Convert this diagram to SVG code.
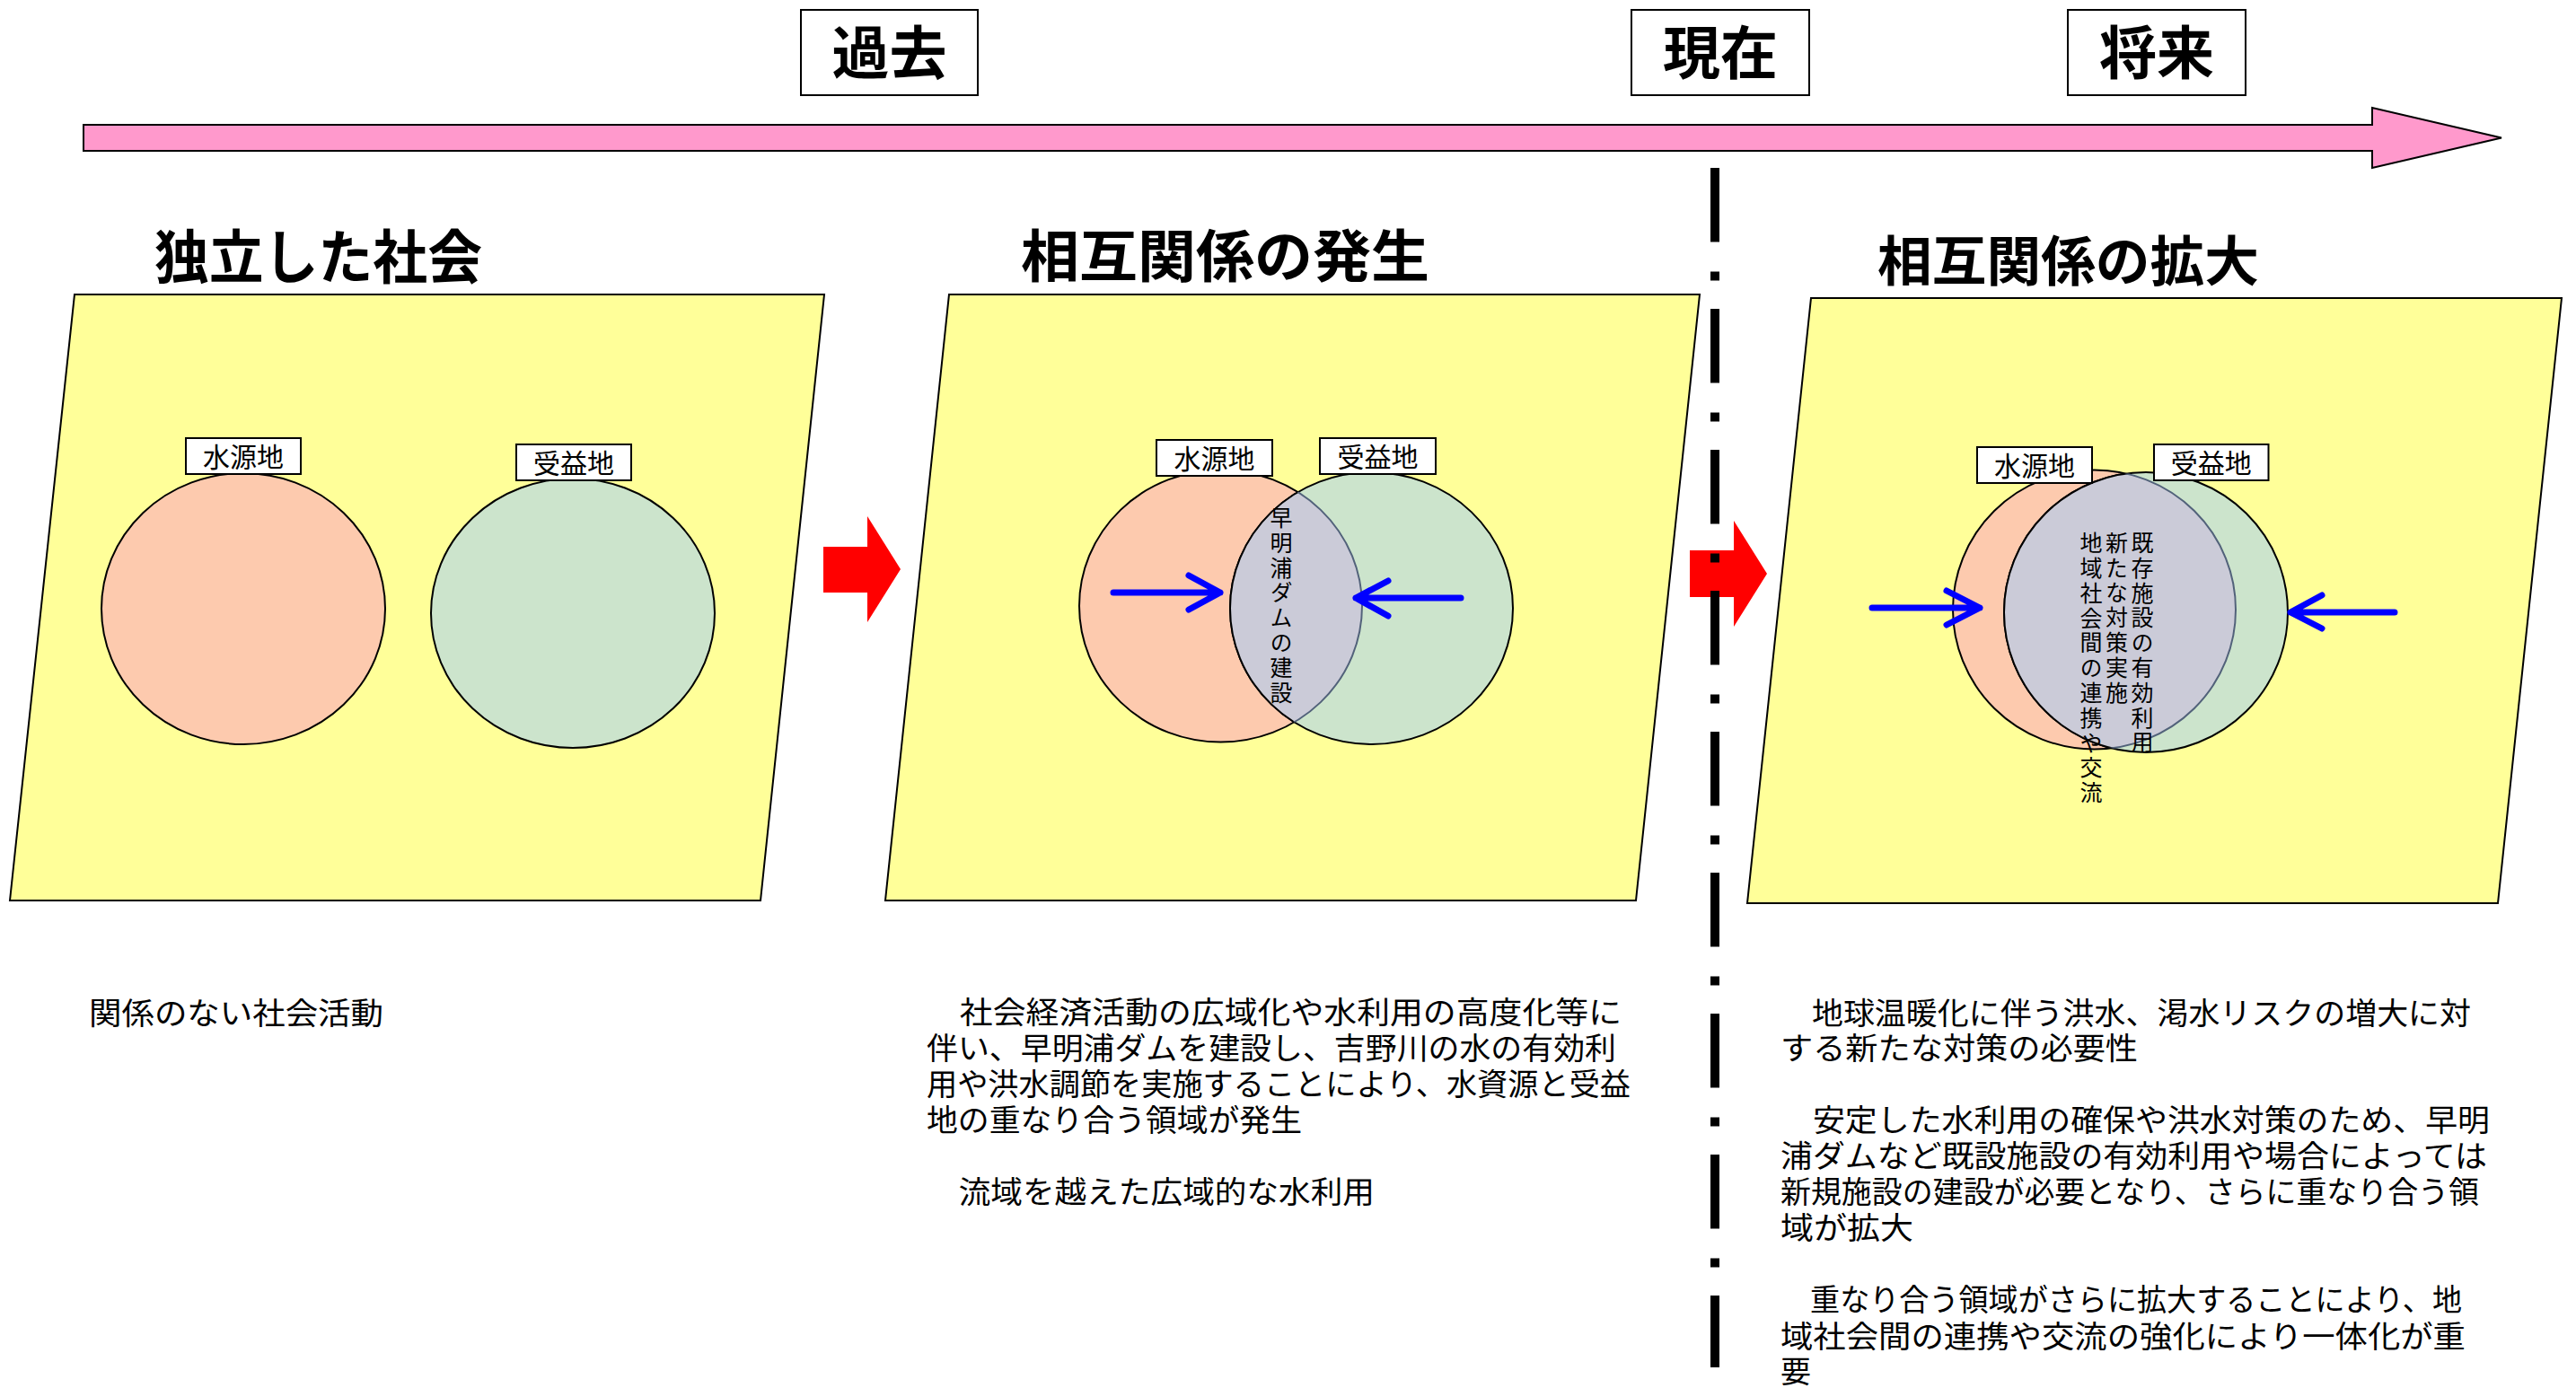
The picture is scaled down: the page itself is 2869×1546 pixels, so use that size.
<svg xmlns="http://www.w3.org/2000/svg" width="2869" height="1546" viewBox="0 0 2869 1546">
<style>
text{font-family:"Noto Sans CJK JP","Noto Sans CJK SC",sans-serif;fill:#000}
.hdr{font-size:64px;font-weight:700;text-anchor:middle}
.ttl{font-weight:700}
.lbl{font-size:30px;text-anchor:middle}
.body{font-size:34px}
.vt{font-size:25px;writing-mode:vertical-rl;letter-spacing:2.8px}
.box{fill:#fff;stroke:#000;stroke-width:2}
.panel{fill:#FFFF99;stroke:#000;stroke-width:2}
.src{fill:#FDCAAE;stroke:#000;stroke-width:2}
.ben{fill:#CCE4CC;stroke:#000;stroke-width:2}
.lens{fill:#CBCBD8;stroke:#000;stroke-width:2}
.lensarc{fill:none;stroke:#52627A;stroke-width:2}
.blue{fill:none;stroke:#0000FF;stroke-width:7;stroke-linecap:round;stroke-linejoin:round}
.red{fill:#FF0000}
</style>
<defs>
<clipPath id="p2L"><ellipse cx="1359.5" cy="675" rx="157.5" ry="151.5"/></clipPath>
<clipPath id="p2R"><ellipse cx="1527.5" cy="677.5" rx="157.5" ry="151.5"/></clipPath>
<clipPath id="p3L"><ellipse cx="2332.5" cy="679" rx="157.5" ry="155.5"/></clipPath>
<clipPath id="p3R"><ellipse cx="2390" cy="682" rx="158" ry="156"/></clipPath>
</defs>

<g id="timeline">
<path d="M93 139 H2642 V120 L2786 153.5 L2642 187 V168 H93 Z" fill="#FF99CC" stroke="#000" stroke-width="2"/>
</g>

<g id="header-past">
<rect class="box" x="892" y="11" width="197" height="95"/>
<text class="hdr" x="990.5" y="82">過去</text>
</g>
<g id="header-present">
<rect class="box" x="1817" y="11" width="198" height="95"/>
<text class="hdr" x="1916" y="82">現在</text>
</g>
<g id="header-future">
<rect class="box" x="2303" y="11" width="198" height="95"/>
<text class="hdr" x="2402" y="82">将来</text>
</g>

<g id="panel-1">
<text class="ttl" x="172" y="310" font-size="65" textLength="365" lengthAdjust="spacingAndGlyphs">独立した社会</text>
<polygon class="panel" points="83,328 918,328 847,1003 11,1003"/>
<ellipse class="src" cx="271" cy="678" rx="158" ry="151"/>
<ellipse class="ben" cx="638" cy="683" rx="158" ry="150"/>
<rect class="box" x="207" y="488" width="128" height="40"/>
<text class="lbl" x="271" y="520">水源地</text>
<rect class="box" x="575" y="495" width="128" height="40"/>
<text class="lbl" x="639" y="527">受益地</text>
<text class="body" x="99" y="1141" textLength="328" lengthAdjust="spacingAndGlyphs">関係のない社会活動</text>
</g>

<g id="panel-2">
<text class="ttl" x="1137" y="308" font-size="63" textLength="455" lengthAdjust="spacingAndGlyphs">相互関係の発生</text>
<polygon class="panel" points="1057,328 1893,328 1822,1003 986,1003"/>
<ellipse class="src" cx="1359.5" cy="675" rx="157.5" ry="151.5"/>
<ellipse class="ben" cx="1527.5" cy="677.5" rx="157.5" ry="151.5"/>
<ellipse class="lens" cx="1527.5" cy="677.5" rx="157.5" ry="151.5" clip-path="url(#p2L)"/>
<ellipse class="lensarc" cx="1359.5" cy="675" rx="157.5" ry="151.5" clip-path="url(#p2R)"/>
<rect class="box" x="1288" y="490" width="129" height="40"/>
<text class="lbl" x="1352.5" y="522">水源地</text>
<rect class="box" x="1470" y="488" width="129" height="40"/>
<text class="lbl" x="1534.5" y="520">受益地</text>
<text class="vt" x="1427" y="564">早明浦ダムの建設</text>
<text class="body"><tspan x="1032" y="1140" textLength="774" lengthAdjust="spacingAndGlyphs">　社会経済活動の広域化や水利用の高度化等に</tspan><tspan x="1032" y="1180" textLength="768" lengthAdjust="spacingAndGlyphs">伴い、早明浦ダムを建設し、吉野川の水の有効利</tspan><tspan x="1032" y="1220" textLength="784" lengthAdjust="spacingAndGlyphs">用や洪水調節を実施することにより、水資源と受益</tspan><tspan x="1032" y="1260" textLength="418" lengthAdjust="spacingAndGlyphs">地の重なり合う領域が発生</tspan></text>
<text class="body" x="1032" y="1340" textLength="499" lengthAdjust="spacingAndGlyphs">　流域を越えた広域的な水利用</text>
</g>

<g id="panel-3">
<text class="ttl" x="2091" y="313" font-size="60" textLength="425" lengthAdjust="spacingAndGlyphs">相互関係の拡大</text>
<polygon class="panel" points="2017,332 2853,332 2782,1006 1946,1006"/>
<ellipse class="src" cx="2332.5" cy="679" rx="157.5" ry="155.5"/>
<ellipse class="ben" cx="2390" cy="682" rx="158" ry="156"/>
<ellipse class="lens" cx="2390" cy="682" rx="158" ry="156" clip-path="url(#p3L)"/>
<ellipse class="lensarc" cx="2332.5" cy="679" rx="157.5" ry="155.5" clip-path="url(#p3R)"/>
<rect class="box" x="2202" y="498" width="128" height="40"/>
<text class="lbl" x="2266" y="530">水源地</text>
<rect class="box" x="2399" y="495" width="127.5" height="40"/>
<text class="lbl" x="2462.75" y="527">受益地</text>
<text class="vt"><tspan x="2386" y="592">既存施設の有効利用</tspan><tspan x="2357.5" y="592">新たな対策実施</tspan><tspan x="2329" y="592">地域社会間の連携や交流</tspan></text>
<text class="body"><tspan x="1983" y="1141" textLength="769" lengthAdjust="spacingAndGlyphs">　地球温暖化に伴う洪水、渇水リスクの増大に対</tspan><tspan x="1983" y="1180" textLength="398" lengthAdjust="spacingAndGlyphs">する新たな対策の必要性</tspan></text>
<text class="body"><tspan x="1983" y="1260" textLength="790" lengthAdjust="spacingAndGlyphs">　安定した水利用の確保や洪水対策のため、早明</tspan><tspan x="1983" y="1300" textLength="787" lengthAdjust="spacingAndGlyphs">浦ダムなど既設施設の有効利用や場合によっては</tspan><tspan x="1983" y="1340" textLength="778" lengthAdjust="spacingAndGlyphs">新規施設の建設が必要となり、さらに重なり合う領</tspan><tspan x="1983" y="1380" textLength="148" lengthAdjust="spacingAndGlyphs">域が拡大</tspan></text>
<text class="body"><tspan x="1983" y="1460" textLength="759" lengthAdjust="spacingAndGlyphs">　重なり合う領域がさらに拡大することにより、地</tspan><tspan x="1983" y="1501" textLength="763" lengthAdjust="spacingAndGlyphs">域社会間の連携や交流の強化により一体化が重</tspan><tspan x="1983" y="1540">要</tspan></text>
</g>

<g id="connectors">
<path class="red" d="M917 609 H966 V575 L1003 634 L966 693 V660 H917 Z"/>
<path class="red" d="M1882 613 H1931 V580 L1968 639 L1931 698 V665 H1882 Z"/>
<path class="blue" d="M1240 660 H1359 M1324 641 L1359 660 L1324 679"/>
<path class="blue" d="M1627 666 H1510 M1546 647 L1510 666 L1546 686"/>
<path class="blue" d="M2085 677 H2205 M2168 658 L2205 677 L2168 696"/>
<path class="blue" d="M2667 682 H2551 M2586 663 L2551 682 L2586 700"/>
</g>

<g id="present-line">
<line x1="1910" y1="187" x2="1910" y2="1523" stroke="#000" stroke-width="10" stroke-dasharray="82.5 33 10 31.5"/>
</g>
</svg>
